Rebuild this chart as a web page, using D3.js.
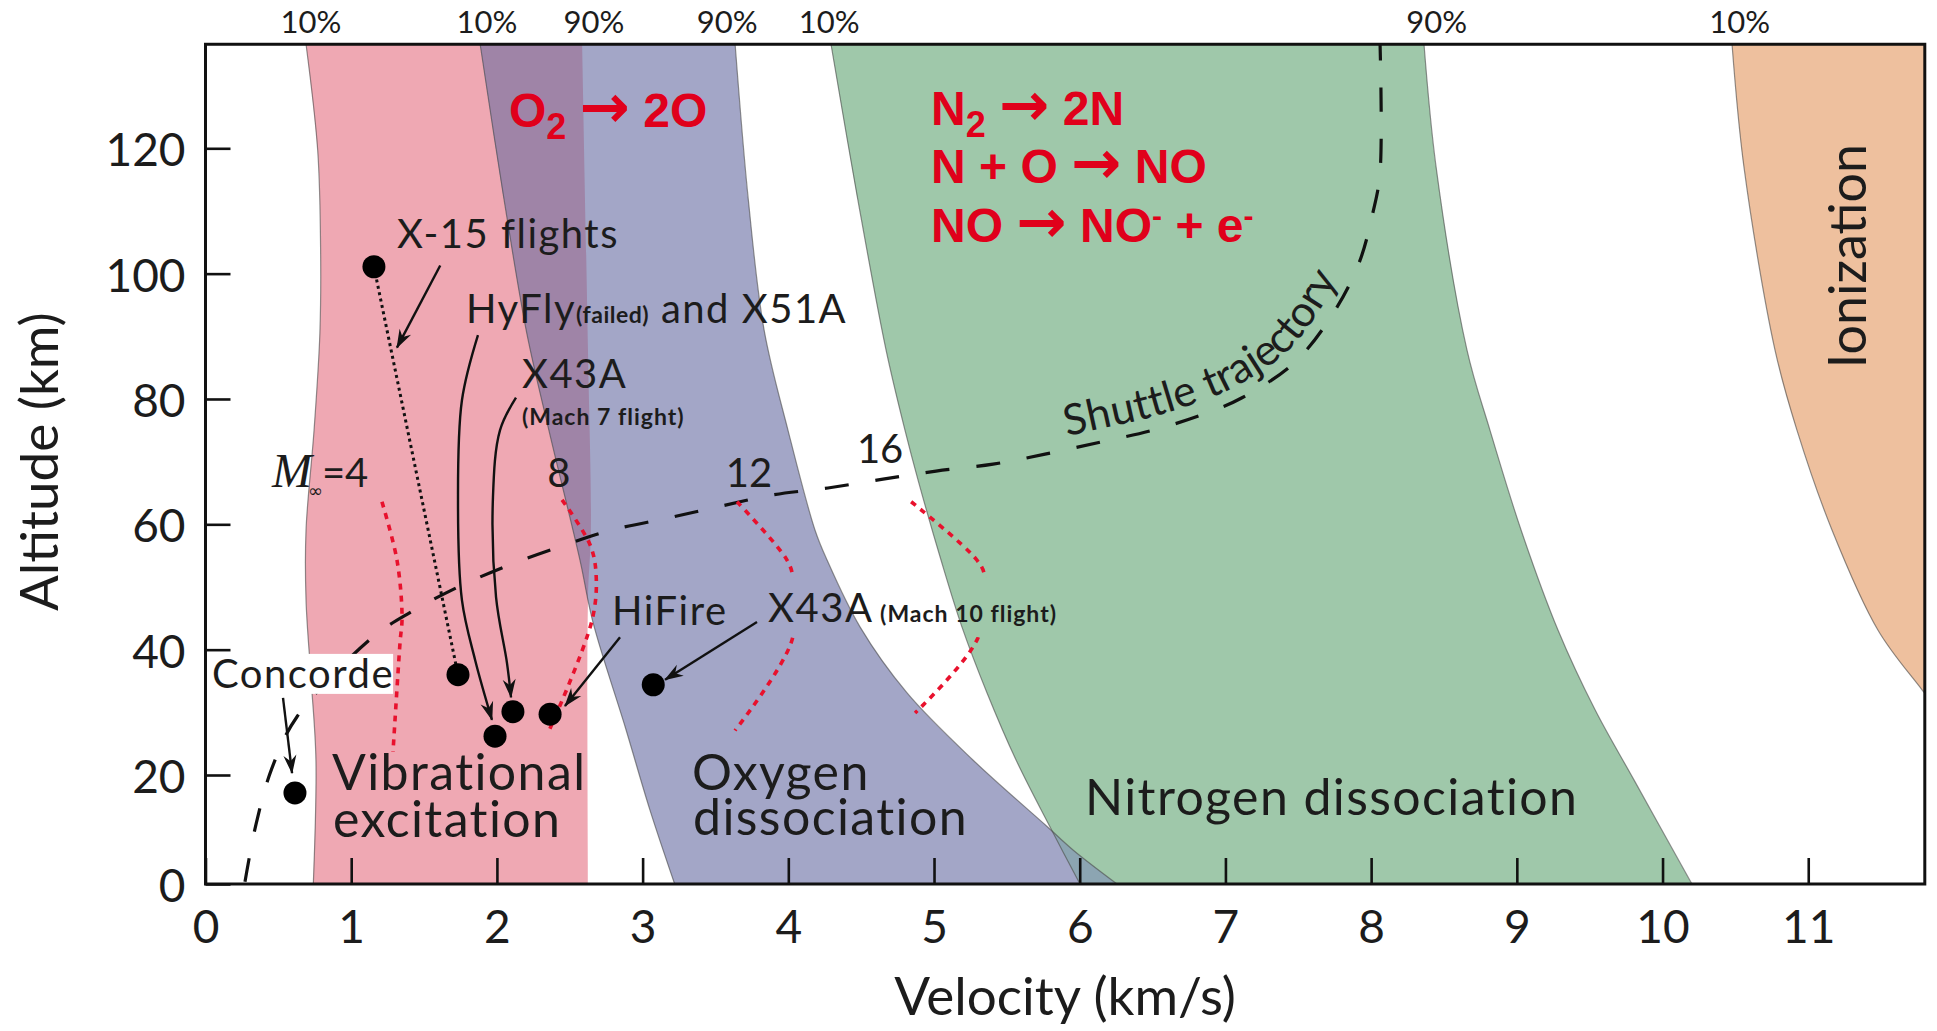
<!DOCTYPE html>
<html>
<head>
<meta charset="utf-8">
<script src="https://cdn.jsdelivr.net/npm/d3@7"></script>
<style>
    html, body { margin: 0; padding: 0; background: #fff; }
    svg { display: block; }
    text { font-family: Lato, "Open Sans", sans-serif; fill: #1c1c1c; }
    .red { font-family: "Liberation Sans", Arial, sans-serif; font-weight: bold; fill: #e0001b; }
</style>
</head>
<body>
<div id="chart"></div>
<script>
// axes
var xTicks = [0, 1, 2, 3, 4, 5, 6, 7, 8, 9, 10, 11];
var yTicks = [0, 20, 40, 60, 80, 100, 120];
var xMax = 11.8, yMax = 136.6;

// band edges, [velocity km/s, altitude km], top to bottom
var vibLeft  = [[0.69, 136.6], [0.77, 119.7], [0.79, 103.8], [0.785, 90.5], [0.745, 75], [0.69, 59.1], [0.69, 47.9], [0.725, 35.2], [0.758, 22.4], [0.74, 0]];
var vibRight = [[2.585, 136.6], [2.625, 87.8], [2.645, 59.1], [2.625, 47.9], [2.625, 0]];
var oxyLeft  = [[1.885, 136.6], [2.05, 111.7], [2.205, 90.5], [2.357, 75], [2.57, 54.3], [2.66, 44.3], [2.88, 27.7], [3.05, 13.6], [3.22, 0]];
var oxyRight = [[3.635, 136.6], [3.726, 111.7], [3.834, 91], [3.998, 75], [4.183, 59.1], [4.266, 54.3], [4.493, 43.6], [4.815, 33.1], [5.267, 22.4], [5.778, 10.5], [5.956, 6.2], [6.256, 0]];
var nitLeft  = [[4.293, 136.6], [4.478, 111.7], [4.671, 87.8], [4.801, 75], [4.89, 67.1], [5.048, 54.3], [5.192, 43.6], [5.364, 33.1], [5.563, 22.4], [5.817, 9.4], [6.002, 0]];
var nitRight = [[8.363, 136.6], [8.446, 117], [8.658, 87.8], [8.816, 75], [9.029, 59.1], [9.283, 43.1], [9.537, 30.4], [9.804, 19.1], [10.202, 0]];
var ionLeft  = [[10.477, 136.6], [10.559, 117], [10.772, 87.8], [10.923, 75], [11.163, 59.1], [11.479, 43.1], [11.781, 33.6], [12.056, 25.6]];
var ionRight = [[12.3, 136.6], [12.3, 25.6]];

// 10% / 90% marks above the frame
var pctLabels = ["10%", "10%", "90%", "90%", "10%", "90%", "10%"];
var pctV = [0.724, 1.932, 2.666, 3.58, 4.28, 8.45, 10.53];

// shuttle re-entry trajectory
var shuttleV   = [0.271, 0.347, 0.456, 0.628, 1.143, 1.41, 1.733, 2.083, 2.44, 2.79, 3.174, 3.538, 3.895, 4.272, 4.65, 5.014, 5.405, 5.762, 6.139, 6.496, 6.819, 7.114, 7.478, 7.746, 7.917, 8.013, 8.061, 8.061];
var shuttleAlt = [0.4, 11, 21.1, 29.3, 41.9, 46, 50, 53.5, 56.5, 59.1, 61, 62.9, 64.7, 65.8, 67.2, 68.5, 69.6, 71.2, 73.1, 75, 77.3, 80.2, 85.9, 93.9, 101.7, 109.8, 116.1, 137];

// constant Mach number lines
var machNames = ["4", "8", "12", "16"];
var machLines = [
    [[1.211, 63.6], [1.314, 54.3], [1.349, 45.2], [1.335, 41.1], [1.287, 23.7]],
    [[2.447, 63.9], [2.64, 56.7], [2.681, 51.9], [2.653, 44.7], [2.351, 26.7]],
    [[3.648, 63.6], [3.991, 54.3], [4.032, 51.4], [4.025, 41.5], [3.634, 27.1]],
    [[4.843, 63.6], [5.294, 54.3], [5.349, 51.6], [5.302, 41.9], [4.87, 29.9]]
];
var machLabelV = [2.426, 3.73, 4.63];
var machLabelAlt = [66.0, 66.0, 69.8];

// flights
var flightNames = ["X-15 start", "X-15 end", "HyFly / X51A", "X43A Mach 7", "HiFire", "X43A Mach 10", "Concorde"];
var flightV   = [1.156, 1.733, 1.987, 2.11, 2.365, 3.073, 0.614];
var flightAlt = [101.1, 36.0, 26.2, 30.1, 29.7, 34.4, 16.7];

// annotation arrows
var arrowPaths = [
    [[1.611, 101.3], [1.314, 88.2]],
    [[1.870, 90.2], [1.760, 79.8], [1.733, 63.9], [1.760, 47.9], [1.850, 38.4], [1.966, 28.8]],
    [[2.131, 80.2], [2.021, 75.0], [1.973, 64.4], [1.994, 48.4], [2.069, 37.9], [2.097, 32.4]],
    [[2.845, 42.0], [2.467, 31.0]],
    [[3.785, 44.4], [3.154, 35.2]],
    [[0.532, 32.3], [0.594, 20.3]]
];

var W = 1937, H = 1031;
var x = d3.scaleLinear().domain([0, xMax]).range([205.5, 1924.8]);
var y = d3.scaleLinear().domain([0, 20, 120]).range([884, 775, 148.3]);
var x0 = x(0), x1 = x(xMax), yB = y(0), yT = y(yMax);

var pink = "#efa8b3", blue = "#a3a6c7", purple = "#9f84a7", green = "#9fc8aa",
    slate = "#8ca5b2", orange = "#eec09e", red = "#e8112d";

var svg = d3.select("#chart").append("svg")
    .attr("width", W)
    .attr("height", H);

var defs = svg.append("defs");
defs.append("clipPath").attr("id", "plotClip")
    .append("rect").attr("x", x0).attr("y", yT).attr("width", x1 - x0).attr("height", yB - yT);

var smooth = d3.line().x(d => x(d[0])).y(d => y(d[1])).curve(d3.curveCatmullRom.alpha(0.5));
function band(l, r) {
    var a = smooth(l), b = smooth(r.slice().reverse());
    return a + "L" + b.slice(1) + "Z";
}
defs.append("clipPath").attr("id", "vibClip").append("path").attr("d", band(vibLeft, vibRight));
defs.append("clipPath").attr("id", "oxyClip").append("path").attr("d", band(oxyLeft, oxyRight));

var marker = defs.append("marker")
    .attr("id", "arrow")
    .attr("viewBox", "-20 -10 22 20")
    .attr("refX", 0).attr("refY", 0)
    .attr("markerUnits", "userSpaceOnUse")
    .attr("markerWidth", 22).attr("markerHeight", 20)
    .attr("orient", "auto");
marker.append("path").attr("d", "M1,0 L-18,-6.5 L-12,0 L-18,6.5 Z").attr("fill", "#111");

var plot = svg.append("g").attr("clip-path", "url(#plotClip)");

plot.append("path").attr("d", band(vibLeft, vibRight)).attr("fill", pink);
plot.append("path").attr("d", band(oxyLeft, oxyRight)).attr("fill", blue);
plot.append("path").attr("d", band(oxyLeft, oxyRight)).attr("fill", purple).attr("clip-path", "url(#vibClip)");
plot.append("path").attr("d", band(nitLeft, nitRight)).attr("fill", green);
plot.append("path").attr("d", band(nitLeft, nitRight)).attr("fill", slate).attr("clip-path", "url(#oxyClip)");
plot.append("path").attr("d", band(ionLeft, ionRight)).attr("fill", orange);

[vibLeft, oxyLeft, oxyRight, nitLeft, nitRight, ionLeft].forEach(function (e) {
    plot.append("path").attr("d", smooth(e))
        .attr("fill", "none").attr("stroke", "#4a4a4a").attr("stroke-width", 1.2).attr("opacity", 0.6);
});

// shuttle trajectory
var shuttle = d3.zip(shuttleV, shuttleAlt);
var trajPath = plot.append("path")
    .attr("id", "shuttlePath")
    .attr("d", smooth(shuttle))
    .attr("fill", "none")
    .attr("stroke", "#111")
    .attr("stroke-width", 3.2)
    .attr("stroke-dasharray", "24 27");

// Mach lines
var machG = plot.append("g").attr("mask", "url(#machMask)");
machLines.forEach(function (m) {
    machG.append("path").attr("d", smooth(m))
        .attr("fill", "none").attr("stroke", red).attr("stroke-width", 3.6)
        .attr("stroke-dasharray", "6 6");
});

// frame
svg.append("rect")
    .attr("x", x0).attr("y", yT).attr("width", x1 - x0).attr("height", yB - yT)
    .attr("fill", "none").attr("stroke", "#111").attr("stroke-width", 3);

// axes
var yAxis = d3.axisLeft(y).tickValues(yTicks).tickSizeInner(-25).tickSizeOuter(0).tickPadding(20);
svg.append("g").attr("transform", "translate(" + x0 + ",0)").call(yAxis)
    .call(g => g.select(".domain").remove())
    .call(g => g.selectAll("line").attr("stroke", "#111").attr("stroke-width", 2.6))
    .call(g => g.selectAll("text").attr("font-size", 46).attr("dy", "0.38em"));

var xAxis = d3.axisBottom(x).tickValues(xTicks).tickSizeInner(-26).tickSizeOuter(0).tickPadding(26);
svg.append("g").attr("transform", "translate(0," + yB + ")").call(xAxis)
    .call(g => g.select(".domain").remove())
    .call(g => g.selectAll("line").attr("stroke", "#111").attr("stroke-width", 2.6))
    .call(g => g.selectAll("text").attr("font-size", 46));

svg.append("text")
    .attr("transform", "translate(58," + (y(20) + y(120)) / 2 + ") rotate(-90)")
    .attr("text-anchor", "middle")
    .attr("font-size", 53)
    .text("Altitude (km)");
svg.append("text")
    .attr("x", (x0 + x1) / 2).attr("y", 1015)
    .attr("text-anchor", "middle")
    .attr("font-size", 53)
    .text("Velocity (km/s)");

svg.selectAll(".pct").data(pctLabels).enter().append("text")
    .attr("class", "pct")
    .attr("x", (d, i) => x(pctV[i]))
    .attr("y", yT - 11)
    .attr("text-anchor", "middle")
    .attr("font-size", 31)
    .text(d => d);

// labels
function label(txt, v, a, size, spacing) {
    return svg.append("text").attr("x", x(v)).attr("y", y(a))
        .attr("font-size", size)
        .attr("letter-spacing", spacing || 0)
        .text(txt);
}

// Concorde label sits on a white box that hides the trajectory
var conc = label("Concorde", 0.045, 33.9, 40, 1.5);
var cb = conc.node().getBBox();
svg.insert("rect", () => conc.node())
    .attr("x", cb.x - 3).attr("y", cb.y + 5).attr("width", cb.width + 2).attr("height", cb.height - 8)
    .attr("fill", "#fff");

// X-15 dotted path
svg.append("line")
    .attr("x1", x(flightV[0])).attr("y1", y(flightAlt[0]))
    .attr("x2", x(flightV[1])).attr("y2", y(flightAlt[1]))
    .attr("stroke", "#111").attr("stroke-width", 3).attr("stroke-dasharray", "3 3.5");

svg.selectAll(".arr").data(arrowPaths).enter().append("path")
    .attr("class", "arr")
    .attr("d", d => smooth(d))
    .attr("fill", "none")
    .attr("stroke", "#111")
    .attr("stroke-width", 2.4)
    .attr("marker-end", "url(#arrow)");

svg.selectAll(".flight").data(flightNames).enter().append("circle")
    .attr("class", "flight")
    .attr("cx", (d, i) => x(flightV[i]))
    .attr("cy", (d, i) => y(flightAlt[i]))
    .attr("r", 11.5)
    .attr("fill", "#000");

label("X-15 flights", 1.314, 104.1, 40, 1.5);
var hy = label("HyFly", 1.788, 92.1, 40, 1.5);
hy.append("tspan").attr("font-size", 23).attr("font-weight", 700).attr("letter-spacing", 0.5).text("(failed)");
hy.append("tspan").attr("letter-spacing", 1.5).text(" and X51A");
label("X43A", 2.172, 81.75, 40, 1.5);
label("(Mach 7 flight)", 2.172, 75.85, 23, 1).attr("font-weight", 700);
label("HiFire", 2.79, 43.9, 40, 1.5);
var x43 = label("X43A", 3.861, 44.4, 40, 1.5);
x43.append("tspan").attr("font-size", 23).attr("font-weight", 700).attr("letter-spacing", 1).text(" (Mach 10 flight)");

label("Vibrational", 0.868, 17.2, 50, 1.4);
label("excitation", 0.875, 8.6, 50, 1.4);
label("Oxygen", 3.339, 17.2, 50, 1.4);
label("dissociation", 3.346, 9.0, 50, 1.4);
label("Nitrogen dissociation", 6.036, 12.7, 50, 1.4);
svg.append("text")
    .attr("transform", "translate(" + x(11.397) + "," + y(102.8) + ") rotate(-90)")
    .attr("text-anchor", "middle")
    .attr("font-size", 52)
    .text("Ionization");

// knock the Mach lines out under the Mach 10 label
var xb = x43.node().getBBox();
var mask = defs.append("mask").attr("id", "machMask").attr("maskUnits", "userSpaceOnUse")
    .attr("x", 0).attr("y", 0).attr("width", W).attr("height", H);
mask.append("rect").attr("width", W).attr("height", H).attr("fill", "#fff");
mask.append("rect").attr("x", xb.x).attr("y", xb.y - 6).attr("width", xb.width).attr("height", xb.height + 12).attr("fill", "#000");

// Mach labels
var m4 = label("", 0.456, 66.0, 40);
m4.append("tspan").attr("font-family", "'Liberation Serif', serif").attr("font-style", "italic").attr("font-size", 48).text("M");
m4.append("tspan").attr("font-family", "'DejaVu Sans', sans-serif").attr("font-size", 18).attr("dy", 10).attr("dx", -4).text("\u221e");
m4.append("tspan").attr("dy", -10).attr("dx", -1).text("=" + machNames[0]);
machLabelV.forEach(function (v, i) {
    label(machNames[i + 1], v, machLabelAlt[i], 40).attr("text-anchor", "middle");
});

// shuttle label along the trajectory
var tnode = trajPath.node(), tl = tnode.getTotalLength(), lo = 0, hi = tl, target = x(5.93);
for (var k = 0; k < 40; k++) {
    var mid = (lo + hi) / 2;
    if (tnode.getPointAtLength(mid).x < target) lo = mid; else hi = mid;
}
svg.append("text").attr("font-size", 43).attr("letter-spacing", 0.6).attr("dy", -13)
    .append("textPath").attr("href", "#shuttlePath").attr("startOffset", lo)
    .text("Shuttle trajectory");

// reactions
function formula(parts, v, a) {
    var t = svg.append("text").attr("class", "red").attr("x", x(v)).attr("y", y(a)).attr("font-size", 48);
    var off = 0;
    parts.forEach(function (p) {
        var s = t.append("tspan").text(p[0]);
        var want = p[1] == "sub" ? 12 : p[1] == "sup" ? -16 : 0;
        if (p[1] == "sub") s.attr("font-size", 36);
        if (p[1] == "sup") s.attr("font-size", 30);
        if (p[1] == "arrow") s.attr("font-family", "'DejaVu Sans', sans-serif").attr("font-size", 60);
        if (want != off) { s.attr("dy", want - off); off = want; }
    });
    return t;
}
var arrowGlyph = ["\u2192", "arrow"];
formula([["O"], ["2", "sub"], [" "], arrowGlyph, [" 2O"]], 2.083, 123.4);
formula([["N"], ["2", "sub"], [" "], arrowGlyph, [" 2N"]], 4.98, 123.7);
formula([["N + O "], arrowGlyph, [" NO"]], 4.98, 114.5);
formula([["NO "], arrowGlyph, [" NO"], ["-", "sup"], [" + e"], ["-", "sup"]], 4.98, 105.05);
</script>
</body>
</html>
